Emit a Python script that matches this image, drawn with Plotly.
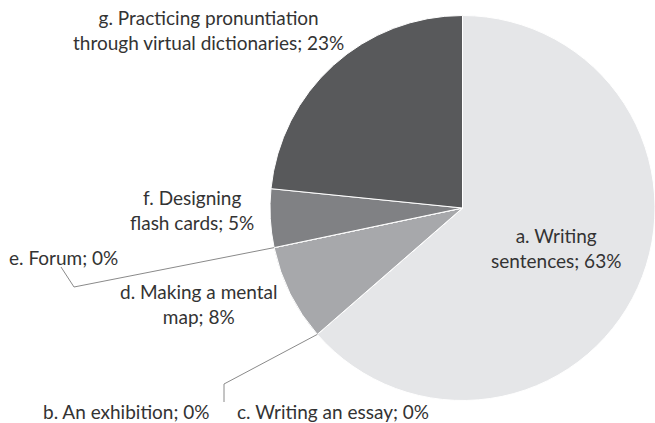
import math
import plotly.graph_objects as go

# slices in clockwise order starting at 12 o'clock
categories = ["a. Writing sentences", "b. An exhibition", "c. Writing an essay",
              "d. Making a mental map", "e. Forum", "f. Designing flash cards",
              "g. Practicing pronuntiation through virtual dictionaries"]
shares = [63.6, 0, 0, 8.1, 0, 4.9, 23.4]
pct_labels = ["63%", "0%", "0%", "8%", "0%", "5%", "23%"]
label_text = ["a. Writing<br>sentences; 63%", "b. An exhibition; 0%", "c. Writing an essay; 0%",
              "d. Making a mental<br>map; 8%", "e. Forum; 0%", "f. Designing<br>flash cards; 5%",
              "g. Practicing pronuntiation<br>through virtual dictionaries; 23%"]
colors = ["#e5e6e8", "#d0d1d3", "#bcbdc0", "#a7a8ab", "#939497", "#808184", "#58595b"]

W, H = 655, 423
dom_x = [270 / W, 1.0]
dom_y = [22 / H, 408 / H]
cx = (dom_x[0] + dom_x[1]) / 2 * W
cy = H - (dom_y[0] + dom_y[1]) / 2 * H
r = min((dom_x[1] - dom_x[0]) * W, (dom_y[1] - dom_y[0]) * H) / 2

fig = go.Figure(go.Pie(
    labels=categories,
    values=shares,
    sort=False,
    direction="clockwise",
    rotation=0,
    textinfo="none",
    hoverinfo="label+percent",
    marker=dict(colors=colors, line=dict(color="#ffffff", width=1)),
    domain=dict(x=dom_x, y=dom_y),
    showlegend=False,
))


def edge_point(idx):
    # point on the rim at the start of slice idx
    frac = sum(shares[:idx]) / sum(shares)
    ang = frac * 2 * math.pi
    return cx + r * math.sin(ang), cy - r * math.cos(ang)


def px(x, y):
    return x / W, 1 - y / H


# label positions (pixel centres)
label_pos = {0: (556, 248), 1: (126, 411), 2: (333, 411), 3: (199, 304),
             4: (63, 257), 5: (192, 210), 6: (208, 30)}

font = dict(family="Lato, 'Open Sans', sans-serif", size=19, color="#333333")
for i, txt in enumerate(label_text):
    x, y = px(*label_pos[i])
    fig.add_annotation(x=x, y=y, xref="paper", yref="paper", text=txt,
                       showarrow=False, font=font, align="center",
                       xanchor="center", yanchor="middle")

# leader lines for the zero slices
line_style = dict(color="#8a8a8a", width=1)
ex, ey = edge_point(4)
pts = [(ex, ey), (74, 287), (61, 267)]
for (x0, y0), (x1, y1) in zip(pts[:-1], pts[1:]):
    fig.add_shape(type="line", xref="paper", yref="paper",
                  x0=x0 / W, y0=1 - y0 / H, x1=x1 / W, y1=1 - y1 / H, line=line_style)
bx, by = edge_point(1)
pts = [(bx, by), (224, 384), (224, 402)]
for (x0, y0), (x1, y1) in zip(pts[:-1], pts[1:]):
    fig.add_shape(type="line", xref="paper", yref="paper",
                  x0=x0 / W, y0=1 - y0 / H, x1=x1 / W, y1=1 - y1 / H, line=line_style)

fig.update_layout(
    width=W, height=H,
    margin=dict(l=0, r=0, t=0, b=0),
    paper_bgcolor="#ffffff",
    plot_bgcolor="#ffffff",
)

fig.write_html("out.html", config={"displayModeBar": False},
               post_script="document.body.style.margin='0';")
